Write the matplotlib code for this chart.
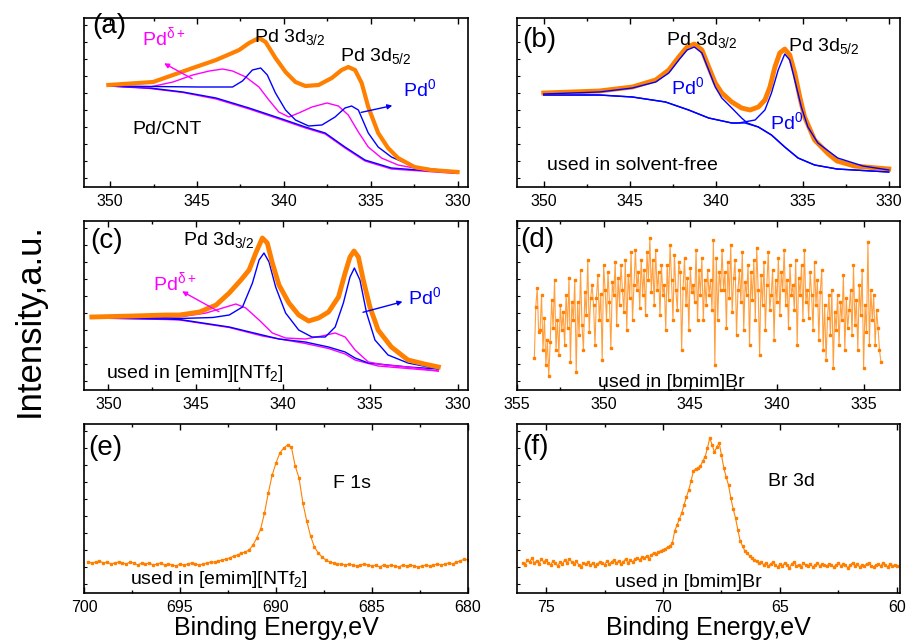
import numpy as np
import matplotlib
matplotlib.use("Agg")
import matplotlib.pyplot as plt
from matplotlib.ticker import MultipleLocator

plt.rcParams['font.family'] = ['Liberation Sans', 'DejaVu Sans']
plt.rcParams['mathtext.fontset'] = 'custom'
plt.rcParams['mathtext.rm'] = 'Liberation Sans'
plt.rcParams['mathtext.default'] = 'regular'

ORANGE = '#ff8000'
BLUE = '#0000ff'
MAGENTA = '#ff00ff'

# ---- (a) Pd/CNT ----
a_tot_E = [350.1, 347.52, 346.38, 345.24, 343.9, 342.57, 342.0, 341.43, 341.05, 340.48, 339.9, 339.33, 338.76,
           338.0, 337.24, 336.67, 336.29, 335.9, 335.52, 335.14, 334.57, 334.0, 333.43, 332.48, 331.52, 330.0]
a_tot_I = [102, 105, 112, 119, 127, 137, 144, 149, 145, 129, 115, 105, 101,
           102, 109, 117, 120, 117, 104, 80, 54, 39, 29, 20, 17, 15]
a_pd0_E = [350.1, 344.86, 342.95, 342.38, 341.81, 341.33, 340.95, 340.48, 339.9, 339.33, 338.57,
           337.81, 337.05, 336.48, 336.1, 335.71, 335.14, 334.57, 333.81, 332.48, 330.0]
a_pd0_I = [101, 100, 100, 106, 117, 119, 112, 94, 77, 67, 61,
           62, 70, 79, 81, 77, 54, 40, 30, 20, 15]
a_pdd_E = [350.1, 347.71, 346.38, 345.24, 344.29, 343.52, 342.95, 342.19, 341.43, 340.86, 340.29, 339.71,
           339.14, 338.38, 337.52, 336.86, 336.29, 335.71, 335.14, 334.38, 333.43, 331.9, 330.0]
a_pdd_I = [101, 100, 105, 112, 116, 118, 116, 110, 100, 87, 75, 70,
           74, 80, 84, 81, 72, 55, 40, 29, 22, 17, 14]
a_bg_E = [350.1, 347.71, 345.81, 343.9, 342.0, 340.1, 338.76, 337.62, 336.48, 335.33, 333.81, 330.0]
a_bg1_I = [101, 99, 95, 89, 79, 68, 60, 54, 40, 27, 19, 14]
a_bg2_I = [101, 98.5, 94.5, 88, 78, 67, 59, 53, 39, 26, 18, 13.5]

# ---- (b) used in solvent-free ----
b_tot_E = [350, 346.78, 344.86, 343.51, 342.75, 342.17, 341.69, 341.27, 340.83, 340.44, 340.06, 339.68,
           339.1, 338.53, 338.04, 337.56, 337.18, 336.89, 336.6, 336.32, 336.03, 335.74, 335.45, 335.16,
           334.88, 334.3, 333.5, 333.0, 332.0, 330.0]
b_tot_I = [94, 96, 100, 107, 117, 130, 140, 143, 137, 120, 104, 94,
           85, 79, 77, 80, 87, 100, 120, 134, 138, 132, 114, 90,
           70, 47, 33, 26, 21, 18]
b_c1_E = [350, 346.78, 344.86, 343.51, 342.75, 342.17, 341.69, 341.27, 340.83, 340.44, 340.06, 339.68,
          339.1, 338.53, 338.2, 337.56, 336.8, 336.03, 335.26, 334.3, 333.0, 330.0]
b_c1_I = [93, 95, 99, 105, 114, 127, 137, 140, 134, 117, 100, 89,
          79, 69, 64, 60, 52, 40, 29, 22, 18, 15]
b_c2_E = [350, 346.78, 344.86, 342.94, 341.6, 340.44, 339.1, 338.7, 337.75, 337.18, 336.8, 336.41,
          336.03, 335.74, 335.45, 335.07, 334.69, 334.11, 332.96, 331.5, 330.0]
b_c2_I = [92, 92, 90, 85, 77, 69, 64, 64, 67, 77, 94, 117,
          133, 127, 107, 80, 60, 44, 29, 21, 17]
b_bg_E = [350, 346.78, 344.86, 342.94, 341.6, 340.44, 339.1, 338.33, 337.56, 336.8, 336.03, 335.26,
          334.3, 333.0, 330.0]
b_bg_I = [92, 92, 90, 85, 77, 69, 64, 64, 60, 52, 40, 29, 22, 18, 15]

# ---- (c) used in [emim][NTf2] ----
c_tot_E = [350.95, 348.6, 346.7, 345.92, 344.78, 343.83, 343.08, 342.41, 341.94, 341.56, 341.18, 340.9,
           340.61, 340.23, 339.66, 339.1, 338.53, 337.96, 337.39, 336.82, 336.44, 336.16, 335.93, 335.68,
           335.4, 335.02, 334.55, 333.79, 332.84, 331.9, 331.1]
c_tot_I = [73, 74, 75, 75, 78, 85, 97, 110, 120, 137, 152, 147,
           127, 105, 87, 75, 69, 72, 78, 93, 117, 133, 139, 133,
           110, 83, 60, 43, 30, 26, 23]
c_pd0_E = [350.95, 346.68, 345.92, 344.02, 343.08, 342.32, 341.75, 341.37, 341.09, 340.8, 340.42, 339.85,
           339.1, 338.34, 337.58, 337.01, 336.54, 336.16, 335.91, 335.59, 335.21, 334.73, 333.98, 332.84, 331.1]
c_pd0_I = [72, 72, 71.5, 72.5, 75, 83, 107, 130, 137, 128, 103, 77,
           60, 53, 53, 63, 87, 113, 122, 110, 77, 50, 35, 27, 21]
c_pdd_E = [350.95, 346.68, 345.92, 344.4, 343.46, 342.7, 342.13, 341.37, 340.61, 339.85, 338.72, 337.77,
           337.01, 336.44, 335.87, 335.11, 334.16, 332.84, 331.1]
c_pdd_I = [72, 73, 73, 77, 82, 86, 82, 70, 57, 52, 51, 54,
           57, 53, 40, 28, 25, 23, 19]
c_bg1_E = [350.95, 346.68, 345.92, 343.08, 341.18, 340.23, 338.72, 337.39, 336.44, 335.87, 335.11, 332.84, 331.1]
c_bg1_I = [72, 71, 70.5, 63, 55, 51, 48, 43, 38, 32, 27, 23, 21]
c_bg2_E = [350.95, 346.68, 345.92, 343.08, 341.18, 338.72, 337.39, 336.44, 335.87, 334.55, 332.84, 331.1]
c_bg2_I = [72, 70.5, 70, 62.5, 54, 46.5, 41.5, 36, 30, 24, 21.5, 19]

# ---- (d) used in [bmim]Br, Pd 3d region (354 -> 334 eV) ----
d_I = [32, 83, 102, 58, 60, 95, 40, 72, 25, 50,
       14, 48, 90, 62, 110, 40, 70, 35, 85, 60,
       78, 45, 95, 62, 112, 28, 88, 70, 110, 18,
       88, 55, 120, 65, 40, 98, 75, 130, 58, 92,
       105, 85, 45, 92, 115, 70, 96, 30, 125, 100,
       70, 118, 88, 42, 108, 95, 128, 65, 112, 85,
       125, 100, 78, 130, 60, 115, 92, 138, 70, 105,
       140, 100, 118, 82, 130, 95, 120, 75, 138, 110,
       152, 98, 130, 85, 140, 100, 118, 75, 125, 95,
       105, 60, 125, 90, 145, 110, 70, 135, 100, 80,
       128, 118, 40, 102, 132, 85, 112, 60, 122, 98,
       105, 88, 140, 70, 120, 95, 132, 70, 110, 85,
       120, 95, 110, 80, 150, 25, 132, 70, 118, 100,
       140, 100, 118, 62, 128, 92, 145, 78, 112, 130,
       55, 100, 120, 88, 138, 60, 108, 95, 125, 45,
       118, 90, 130, 70, 142, 100, 35, 115, 85, 128,
       60, 105, 138, 80, 95, 120, 50, 110, 88, 132,
       75, 118, 100, 140, 85, 110, 62, 125, 95, 105,
       80, 130, 45, 112, 95, 125, 70, 140, 88, 100,
       72, 118, 95, 60, 128, 85, 110, 50, 98, 120,
       40, 85, 30, 72, 95, 55, 100, 22, 78, 60,
       95, 45, 88, 70, 115, 40, 92, 62, 80, 100,
       55, 125, 65, 90, 40, 105, 75, 120, 22, 85,
       58, 148, 45, 100, 70, 95, 45, 80, 62, 40,
       28]
d_E = np.linspace(354.0, 334.0, len(d_I))

# ---- (e) F 1s (699.8 -> 680 eV) ----
e_I = [31, 30, 31, 32, 30, 31, 29, 30, 31, 30,
       29, 31, 30, 28, 30, 29, 30, 28, 29, 30,
       28, 29, 28, 27, 29, 28, 29, 30, 29, 28,
       29, 30, 31,
       31, 32, 33, 34, 35, 37, 38,
       40, 41, 43, 48, 55, 64, 80, 100, 118, 130, 140, 145, 148, 146, 127,
       115, 90, 72, 57, 46, 40, 36, 33, 31, 30, 29,
       29, 28, 29, 28, 27, 28, 29, 28, 27, 28,
       26, 28, 27, 28, 27, 26, 28, 27, 28, 27,
       26, 27, 28, 27, 28, 29, 28, 29, 30, 29,
       31, 32, 34, 33]
e_E = np.linspace(699.8, 680.0, len(e_I))

# ---- (f) Br 3d (76 -> 60 eV) ----
f_I = [30, 28, 33, 31, 35, 30, 32, 29, 34, 31,
       33, 30, 28, 32, 30, 27, 31, 29, 33, 30,
       34, 31, 29, 32, 28, 26, 30, 29, 31, 28,
       30, 27, 29, 31, 30, 28, 32, 29, 31, 33,
       30, 32, 29, 31, 34, 30, 33, 31, 34, 35,
       33, 36, 35, 37, 34, 38, 40, 39, 41, 42,
       43, 44, 46, 47, 50, 62, 68, 74, 80, 88,
       96, 103, 112, 122, 124, 125, 127, 132, 136, 145,
       155, 148, 141, 146, 150, 138, 125, 116, 108, 95,
       84, 75, 63, 52, 47, 42, 40, 37, 35, 33,
       32, 30, 31, 28, 30, 27, 29, 31, 28, 26,
       29, 27, 30, 28, 25, 29, 31, 27, 28, 26,
       30, 28, 27, 29, 26, 28, 30, 27, 29, 28,
       27, 29, 28, 26, 28, 30, 27, 29, 28, 25,
       28, 30, 27, 29, 26, 28, 27, 29, 30, 27,
       26, 28, 29, 27, 30, 28, 26, 29, 27, 28,
       27]
f_E = np.linspace(76.0, 60.0, len(f_I))

fig = plt.figure(figsize=(9.06, 6.43), dpi=100)
W, H = 906, 643


def add_ax(x0, y0, x1, y1):
    return fig.add_axes([x0 / W, 1 - y1 / H, (x1 - x0) / W, (y1 - y0) / H])


axA = add_ax(84, 18, 468, 187)
axB = add_ax(517, 18, 900, 187)
axC = add_ax(84, 221, 468, 390)
axD = add_ax(517, 221, 900, 390)
axE = add_ax(84, 424, 468, 593)
axF = add_ax(517, 424, 900, 593)

xlims = {axA: (351.5, 329.4), axB: (351.55, 329.35), axC: (351.4, 329.4),
         axD: (355, 332.9), axE: (700, 680), axF: (76.24, 59.87)}

for ax, lim in xlims.items():
    ax.set_xlim(*lim)
    ax.set_ylim(0, 169)
    ax.xaxis.set_major_locator(MultipleLocator(5))
    ax.xaxis.set_minor_locator(MultipleLocator(2.5))
    ax.set_yticks(np.arange(9, 169, 17))
    ax.set_yticklabels([])
    ax.tick_params(axis='x', which='both', direction='in', top=True, labelsize=11.5, pad=5)
    ax.tick_params(axis='x', which='major', length=4, width=1)
    ax.tick_params(axis='x', which='minor', length=2.5, width=1)
    ax.tick_params(axis='y', which='both', direction='in', length=2, width=0.8)
    for s in ax.spines.values():
        s.set_linewidth(1.2)

TS = 14

# (a)
axA.plot(a_bg_E, a_bg2_I, color=MAGENTA, lw=1)
axA.plot(a_bg_E, a_bg1_I, color=BLUE, lw=1)
axA.plot(a_pdd_E, a_pdd_I, color=MAGENTA, lw=1)
axA.plot(a_pd0_E, a_pd0_I, color=BLUE, lw=1)
axA.plot(a_tot_E, a_tot_I, color=ORANGE, lw=3, solid_joinstyle='round')
axA.text(0.021, 0.953, '(a)', transform=axA.transAxes, fontsize=20, va='center')
axA.text(348.17, 150, 'Pd$^{δ+}$', color=MAGENTA, fontsize=TS, va='center')
axA.text(341.7, 150, 'Pd 3d$_{3/2}$', fontsize=TS, va='center')
axA.text(336.74, 131, 'Pd 3d$_{5/2}$', fontsize=TS, va='center')
axA.text(333.14, 98, 'Pd$^0$', color=BLUE, fontsize=TS, va='center')
axA.text(348.69, 57, 'Pd/CNT', fontsize=TS, va='center')
axA.annotate('', xy=(347.03, 125), xytext=(345.14, 107),
             arrowprops=dict(arrowstyle='-|>', color=MAGENTA, lw=1, mutation_scale=7))
axA.annotate('', xy=(333.6, 82), xytext=(335.71, 74),
             arrowprops=dict(arrowstyle='-|>', color=BLUE, lw=1, mutation_scale=7))

# (b)
axB.plot(b_bg_E, b_bg_I, color=BLUE, lw=1)
axB.plot(b_tot_E, b_tot_I, color=ORANGE, lw=3.5, solid_joinstyle='round')
axB.plot(b_c1_E, b_c1_I, color=BLUE, lw=1)
axB.plot(b_c2_E, b_c2_I, color=BLUE, lw=1)
axB.text(0.013, 0.87, '(b)', transform=axB.transAxes, fontsize=20, va='center')
axB.text(342.92, 147, 'Pd 3d$_{3/2}$', fontsize=TS, va='center')
axB.text(335.84, 141, 'Pd 3d$_{5/2}$', fontsize=TS, va='center')
axB.text(342.63, 100, 'Pd$^0$', color=BLUE, fontsize=TS, va='center')
axB.text(336.87, 65, 'Pd$^0$', color=BLUE, fontsize=TS, va='center')
axB.text(349.83, 22, 'used in solvent-free', fontsize=TS, va='center')

# (c)
axC.plot(c_bg2_E, c_bg2_I, color=MAGENTA, lw=1)
axC.plot(c_bg1_E, c_bg1_I, color=BLUE, lw=1)
axC.plot(c_pdd_E, c_pdd_I, color=MAGENTA, lw=1)
axC.plot(c_pd0_E, c_pd0_I, color=BLUE, lw=1)
axC.plot(c_tot_E, c_tot_I, color=ORANGE, lw=3.5, solid_joinstyle='round')
axC.text(0.016, 0.88, '(c)', transform=axC.transAxes, fontsize=20, va='center')
axC.text(345.75, 150, 'Pd 3d$_{3/2}$', fontsize=TS, va='center')
axC.text(347.46, 108, 'Pd$^{δ+}$', color=MAGENTA, fontsize=TS, va='center')
axC.text(332.84, 93, 'Pd$^0$', color=BLUE, fontsize=TS, va='center')
axC.text(350.13, 12, 'used in [emim][NTf$_2$]', fontsize=TS, va='baseline')
axC.annotate('', xy=(345.92, 100), xytext=(343.53, 77),
             arrowprops=dict(arrowstyle='-|>', color=MAGENTA, lw=1, mutation_scale=7))
axC.annotate('', xy=(333.0, 89), xytext=(335.57, 77),
             arrowprops=dict(arrowstyle='-|>', color=BLUE, lw=1, mutation_scale=7))

# (d)
axD.plot(d_E, d_I, color='#ffa040', lw=0.8)
axD.plot(d_E, d_I, ls='none', marker='s', ms=1.8, color=ORANGE)
axD.text(0.008, 0.888, '(d)', transform=axD.transAxes, fontsize=20, va='center')
axD.text(350.3, 3, 'used in [bmim]Br', fontsize=TS, va='baseline')

# (e)
axE.plot(e_E, e_I, color=ORANGE, lw=0.8, marker='s', ms=1.8)
axE.text(0.01, 0.858, '(e)', transform=axE.transAxes, fontsize=20, va='center')
axE.text(687.03, 109, 'F 1s', fontsize=TS, va='center')
axE.text(697.63, 9, 'used in [emim][NTf$_2$]', fontsize=TS, va='baseline')
axE.set_xlabel('Binding Energy,eV', fontsize=18, labelpad=1)

# (f)
axF.plot(f_E, f_I, color=ORANGE, lw=0.8, marker='s', ms=1.8)
axF.text(0.013, 0.864, '(f)', transform=axF.transAxes, fontsize=20, va='center')
axF.text(65.53, 112, 'Br 3d', fontsize=TS, va='center')
axF.text(72.06, 6, 'used in [bmim]Br', fontsize=TS, va='baseline')
axF.set_xlabel('Binding Energy,eV', fontsize=18, labelpad=1)

fig.text(0.032, 0.502, 'Intensity,a.u.', rotation=90, fontsize=25, va='center', ha='center')

fig.savefig('out.png', dpi=100)
